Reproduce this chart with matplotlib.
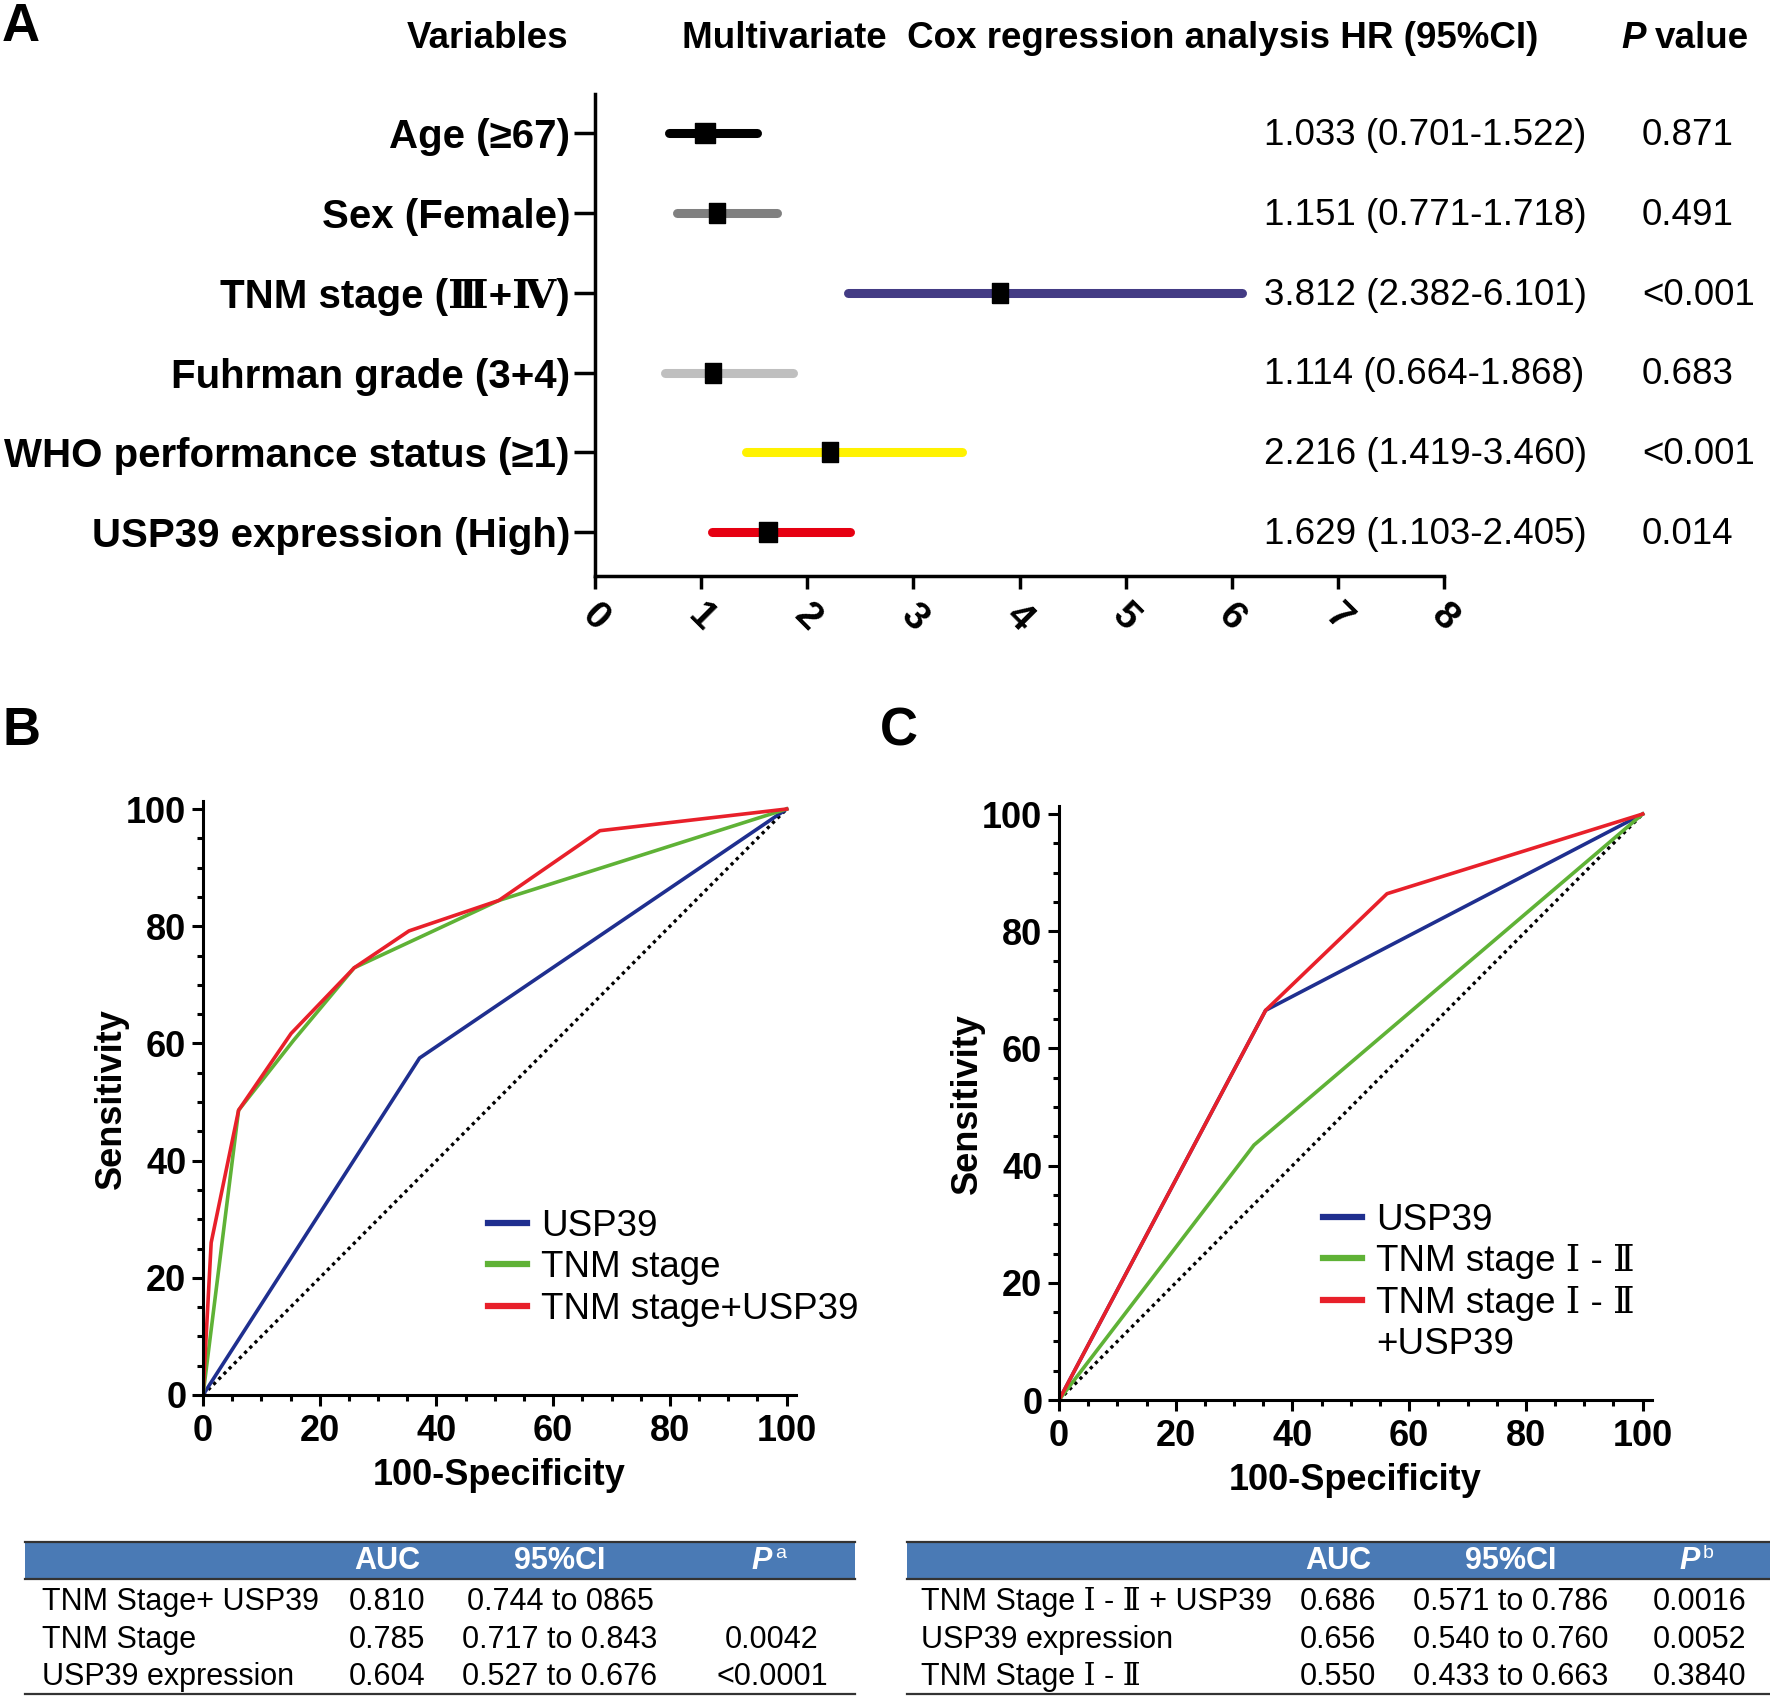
import numpy as np
import matplotlib
matplotlib.use('Agg')
import matplotlib.pyplot as plt
from matplotlib.lines import Line2D
from matplotlib.patches import Rectangle
from matplotlib import transforms

plt.rcParams['font.family'] = ['Liberation Sans', 'DejaVu Serif', 'Noto Sans CJK SC']

W, H = 1770, 1697

# ---- panel A: multivariate Cox regression ----
variables = ['Age (≥67)', 'Sex (Female)', 'TNM stage (Ⅲ+Ⅳ)', 'Fuhrman grade (3+4)',
             'WHO performance status (≥1)', 'USP39 expression (High)']
hr = [1.033, 1.151, 3.812, 1.114, 2.216, 1.629]
ci_low = [0.701, 0.771, 2.382, 0.664, 1.419, 1.103]
ci_high = [1.522, 1.718, 6.101, 1.868, 3.460, 2.405]
p_values = ['0.871', '0.491', '<0.001', '0.683', '<0.001', '0.014']
bar_colors = ['#000000', '#808080', '#433b84', '#bfbfbf', '#fff200', '#e60012']
marker_w = [1.0, 0.75, 0.75, 0.75, 0.75, 0.85]

# ---- panel B: ROC, all stages ----
b_usp39_x = [0, 37.1, 100]
b_usp39_y = [0, 57.5, 100]
b_tnm_x = [0, 6.1, 15.5, 25.9, 50.7, 100]
b_tnm_y = [0, 48.6, 60.5, 72.9, 84.4, 100]
b_comb_x = [0, 1.4, 6.1, 15.1, 25.9, 35.3, 50.7, 68.0, 100]
b_comb_y = [0, 26.0, 48.6, 61.7, 72.9, 79.2, 84.4, 96.3, 100]

# ---- panel C: ROC, stage I-II ----
c_usp39_x = [0, 35.4, 100]
c_usp39_y = [0, 66.5, 100]
c_tnm_x = [0, 33.4, 100]
c_tnm_y = [0, 43.5, 100]
c_comb_x = [0, 35.4, 56.2, 100]
c_comb_y = [0, 66.5, 86.4, 100]

# ---- tables ----
tab_b_rows = ['TNM Stage+ USP39', 'TNM Stage', 'USP39 expression']
tab_b_auc = ['0.810', '0.785', '0.604']
tab_b_ci = ['0.744 to 0865', '0.717 to 0.843', '0.527 to 0.676']
tab_b_p = ['', '0.0042', '<0.0001']
tab_c_rows = ['TNM Stage Ⅰ - Ⅱ + USP39', 'USP39 expression', 'TNM Stage Ⅰ - Ⅱ']
tab_c_auc = ['0.686', '0.656', '0.550']
tab_c_ci = ['0.571 to 0.786', '0.540 to 0.760', '0.433 to 0.663']
tab_c_p = ['0.0016', '0.0052', '0.3840']

blue, green, red = '#1f2f8f', '#5fb236', '#e8202a'


def fx(px):
    return px / W


def fy(py):
    return 1 - py / H


fig = plt.figure(figsize=(W / 100, H / 100), dpi=100)

# panel A
axA = fig.add_axes([fx(595), fy(576), 849 / W, 482 / H])
ypos = np.arange(1, len(variables) + 1)
for i in range(len(variables)):
    axA.plot([ci_low[i], ci_high[i]], [ypos[i], ypos[i]], color=bar_colors[i],
             lw=6.5, solid_capstyle='round')
    w = marker_w[i]
    axA.plot([hr[i]], [ypos[i]], color='black', lw=0, ms=15,
             marker=[(-w, -1), (w, -1), (w, 1), (-w, 1), (-w, -1)])
axA.set_xlim(0, 8)
axA.set_ylim(6.55, 0.51)
axA.set_yticks(ypos)
axA.set_yticklabels(variables, fontsize=29, fontweight='bold')
axA.set_xticks(range(9))
axA.set_xticklabels([str(i) for i in range(9)], fontsize=28, fontweight='bold',
                    rotation=-45, ha='center')
axA.tick_params(axis='y', length=15, width=2.5, pad=3)
axA.tick_params(axis='x', length=9.5, width=2.5, pad=6)
for s in ['top', 'right']:
    axA.spines[s].set_visible(False)
for s in ['left', 'bottom']:
    axA.spines[s].set_linewidth(2.5)

trA = transforms.blended_transform_factory(fig.transFigure, axA.transData)
for i in range(len(variables)):
    txt = '%.3f (%.3f-%.3f)' % (hr[i], ci_low[i], ci_high[i])
    axA.text(fx(1264), ypos[i] + 0.03, txt, transform=trA, fontsize=26.5, va='center', ha='left')
    axA.text(fx(1642), ypos[i] + 0.03, p_values[i], transform=trA, fontsize=26.5, va='center', ha='left')

fig.text(fx(488), fy(38), 'Variables', fontsize=26.5, fontweight='bold', ha='center', va='center')
fig.text(fx(1110), fy(38), 'Multivariate  Cox regression analysis HR (95%CI)', fontsize=26.5,
         fontweight='bold', ha='center', va='center')
fig.text(fx(1621), fy(38), 'P', fontsize=26.5, fontweight='bold', style='italic', ha='left', va='center')
fig.text(fx(1655), fy(38), 'value', fontsize=26.5, fontweight='bold', ha='left', va='center')

fig.text(fx(2), fy(2), 'A', fontsize=38, fontweight='bold', ha='left', va='top')
fig.text(fx(2), fy(706), 'B', fontsize=38, fontweight='bold', ha='left', va='top')
fig.text(fx(880), fy(706), 'C', fontsize=38, fontweight='bold', ha='left', va='top')


def roc_axes(left_px, bottom_px, curves):
    ax = fig.add_axes([fx(left_px), fy(bottom_px), 593 / W, 593.6 / H])
    ax.plot([0, 100], [0, 100], color='black', lw=2.4, linestyle=(0, (1, 1.2)))
    for (xs, ys), c in zip(curves, [blue, green, red]):
        ax.plot(xs, ys, color=c, lw=2.6)
    ax.set_xlim(0, 101.6)
    ax.set_ylim(0, 101.3)
    ax.set_xticks(np.arange(0, 101, 20))
    ax.set_yticks(np.arange(0, 101, 20))
    ax.set_xticks(np.arange(5, 100, 5), minor=True)
    ax.set_yticks(np.arange(5, 100, 5), minor=True)
    for lab in ax.get_xticklabels() + ax.get_yticklabels():
        lab.set_fontsize(26)
        lab.set_fontweight('bold')
    ax.tick_params(which='major', length=8, width=2.2, pad=4)
    ax.tick_params(axis='x', which='major', pad=6)
    ax.tick_params(which='minor', length=4.5, width=2.2)
    for s in ['top', 'right']:
        ax.spines[s].set_visible(False)
    for s in ['left', 'bottom']:
        ax.spines[s].set_linewidth(2.2)
    ax.set_xlabel('100-Specificity', fontsize=26, fontweight='bold', labelpad=6)
    ax.set_ylabel('Sensitivity', fontsize=26, fontweight='bold', labelpad=-2)
    return ax


def legend_handles(n_blank=0):
    hs = [Line2D([], [], color=c, lw=4.5) for c in [blue, green, red]]
    hs += [Line2D([], [], color='none', lw=0) for _ in range(n_blank)]
    return hs


axB = roc_axes(203, 1395, [(b_usp39_x, b_usp39_y), (b_tnm_x, b_tnm_y), (b_comb_x, b_comb_y)])
axB.legend(legend_handles(), ['USP39', 'TNM stage', 'TNM stage+USP39'], loc='upper left',
           bbox_to_anchor=(fx(488), fy(1209)), bbox_transform=fig.transFigure,
           frameon=False, fontsize=26.5, handlelength=1.05, handletextpad=0.4,
           labelspacing=0.17, borderpad=0, borderaxespad=0)

axC = roc_axes(1059, 1400, [(c_usp39_x, c_usp39_y), (c_tnm_x, c_tnm_y), (c_comb_x, c_comb_y)])
axC.legend(legend_handles(1), ['USP39', 'TNM stage Ⅰ - Ⅱ', 'TNM stage Ⅰ - Ⅱ', '+USP39'],
           loc='upper left',
           bbox_to_anchor=(fx(1323), fy(1203)), bbox_transform=fig.transFigure,
           frameon=False, fontsize=26.5, handlelength=1.05, handletextpad=0.4,
           labelspacing=0.17, borderpad=0, borderaxespad=0)


def draw_table(x0, x1, label_x, col_x, p_hdr_x, rows, auc, ci, p, sup):
    fig.add_artist(Rectangle((fx(x0), fy(1578)), (x1 - x0) / W, 35 / H,
                             transform=fig.transFigure, facecolor='#4a7ab5', edgecolor='none'))
    for yl in [1542, 1579, 1694]:
        fig.add_artist(Line2D([fx(x0), fx(x1)], [fy(yl), fy(yl)], transform=fig.transFigure,
                              color='#333333', lw=1.6))
    hy = fy(1561)
    fig.text(fx(col_x[0]), hy, 'AUC', fontsize=22, fontweight='bold', color='white', ha='center', va='center')
    fig.text(fx(col_x[1]), hy, '95%CI', fontsize=22, fontweight='bold', color='white', ha='center', va='center')
    fig.text(fx(p_hdr_x), hy, 'P', fontsize=22, fontweight='bold', style='italic', color='white',
             ha='center', va='center')
    fig.text(fx(p_hdr_x + 13), fy(1553), sup, fontsize=14, color='white', ha='left', va='center')
    for i, ry in enumerate([1602, 1640, 1677]):
        fig.text(fx(label_x), fy(ry), rows[i], fontsize=22, ha='left', va='center')
        fig.text(fx(col_x[0]), fy(ry), auc[i], fontsize=22, ha='center', va='center')
        fig.text(fx(col_x[1]), fy(ry), ci[i], fontsize=22, ha='center', va='center')
        fig.text(fx(col_x[2]), fy(ry), p[i], fontsize=22, ha='center', va='center')


draw_table(25, 855, 42, [387, 560, 772], 762, tab_b_rows, tab_b_auc, tab_b_ci, tab_b_p, 'a')
draw_table(907, 1770, 921, [1338, 1511, 1700], 1690, tab_c_rows, tab_c_auc, tab_c_ci, tab_c_p, 'b')

fig.savefig('out.png', dpi=100)
